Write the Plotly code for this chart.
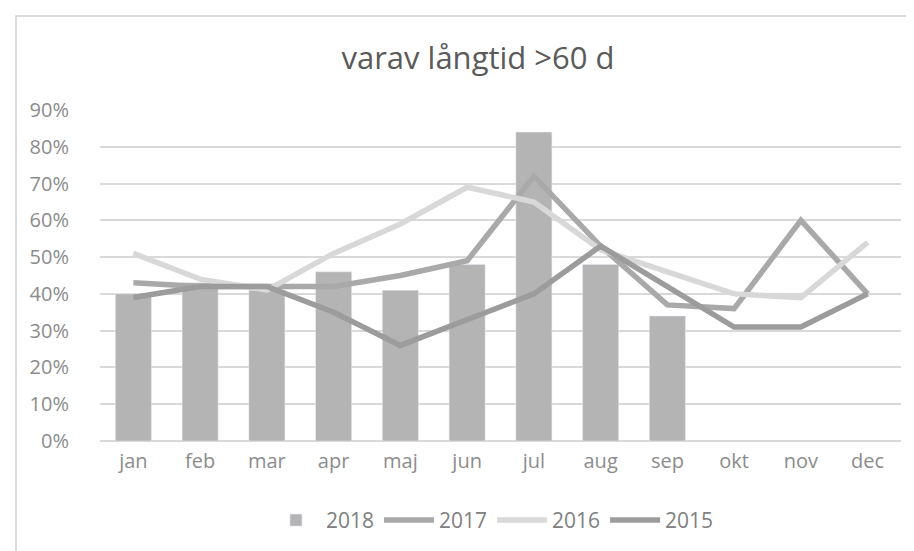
import plotly.graph_objects as go

months = ["jan", "feb", "mar", "apr", "maj", "jun", "jul", "aug", "sep", "okt", "nov", "dec"]
y2018 = [0.40, 0.43, 0.41, 0.46, 0.41, 0.48, 0.84, 0.48, 0.34, None, None, None]
y2017 = [0.43, 0.42, 0.42, 0.42, 0.45, 0.49, 0.72, 0.53, 0.37, 0.36, 0.60, 0.40]
y2016 = [0.51, 0.44, 0.41, 0.51, 0.59, 0.69, 0.65, 0.52, 0.46, 0.40, 0.39, 0.54]
y2015 = [0.39, 0.42, 0.42, 0.35, 0.26, 0.33, 0.40, 0.53, 0.42, 0.31, 0.31, 0.40]
yticks = [0, 0.1, 0.2, 0.3, 0.4, 0.5, 0.6, 0.7, 0.8, 0.9]
ytick_text = ["0%", "10%", "20%", "30%", "40%", "50%", "60%", "70%", "80%", "90%"]

FONT = "Open Sans, sans-serif"

fig = go.Figure()
fig.add_trace(go.Bar(x=months, y=y2018, name="2018", marker=dict(color="#b4b4b4")))
fig.add_trace(go.Scatter(x=months, y=y2017, name="2017", mode="lines",
                         line=dict(color="#a9a9a9", width=5.5)))
fig.add_trace(go.Scatter(x=months, y=y2016, name="2016", mode="lines",
                         line=dict(color="#d8d8d8", width=5.5)))
fig.add_trace(go.Scatter(x=months, y=y2015, name="2015", mode="lines",
                         line=dict(color="#9c9c9c", width=5.5)))

L, R, T, B = 92, 21, 102, 118
W, H = 914, 551
pw, ph = W - L - R, H - T - B

fig.update_layout(
    width=W, height=H,
    margin=dict(l=L, r=R, t=T, b=B),
    paper_bgcolor="white", plot_bgcolor="white",
    font=dict(family=FONT, color="#8c8c8c", size=20),
    title=dict(text="varav långtid >60 d", x=470 / W, xanchor="center",
               y=1 - 50 / H, yanchor="middle",
               font=dict(family=FONT, size=31, color="#5a5a5a")),
    bargap=0.46,
    showlegend=True,
    legend=dict(orientation="h", x=0.49, xanchor="center", y=-0.24, yanchor="middle",
                font=dict(size=21, color="#808080"), traceorder="normal",
                itemwidth=50),
    xaxis=dict(showgrid=False, showline=False, ticks="", tickfont=dict(size=20),
               ticklabelstandoff=6),
    yaxis=dict(range=[0, 0.9], tickvals=yticks, ticktext=ytick_text,
               showgrid=True, gridcolor="#d9d9d9", gridwidth=1.5,
               zeroline=True, zerolinecolor="#d9d9d9", zerolinewidth=1.5,
               showline=False, ticks="", tickfont=dict(size=20),
               ticklabelstandoff=30),
    shapes=[dict(type="rect", xref="paper", yref="paper",
                 x0=(8 - L) / pw, x1=(906 - L) / pw,
                 y0=(H - B - 545) / ph, y1=(H - B - 8) / ph,
                 line=dict(color="#d0d0d0", width=1.5), fillcolor="rgba(0,0,0,0)",
                 layer="below")],
)

fig.write_html("out.html")
